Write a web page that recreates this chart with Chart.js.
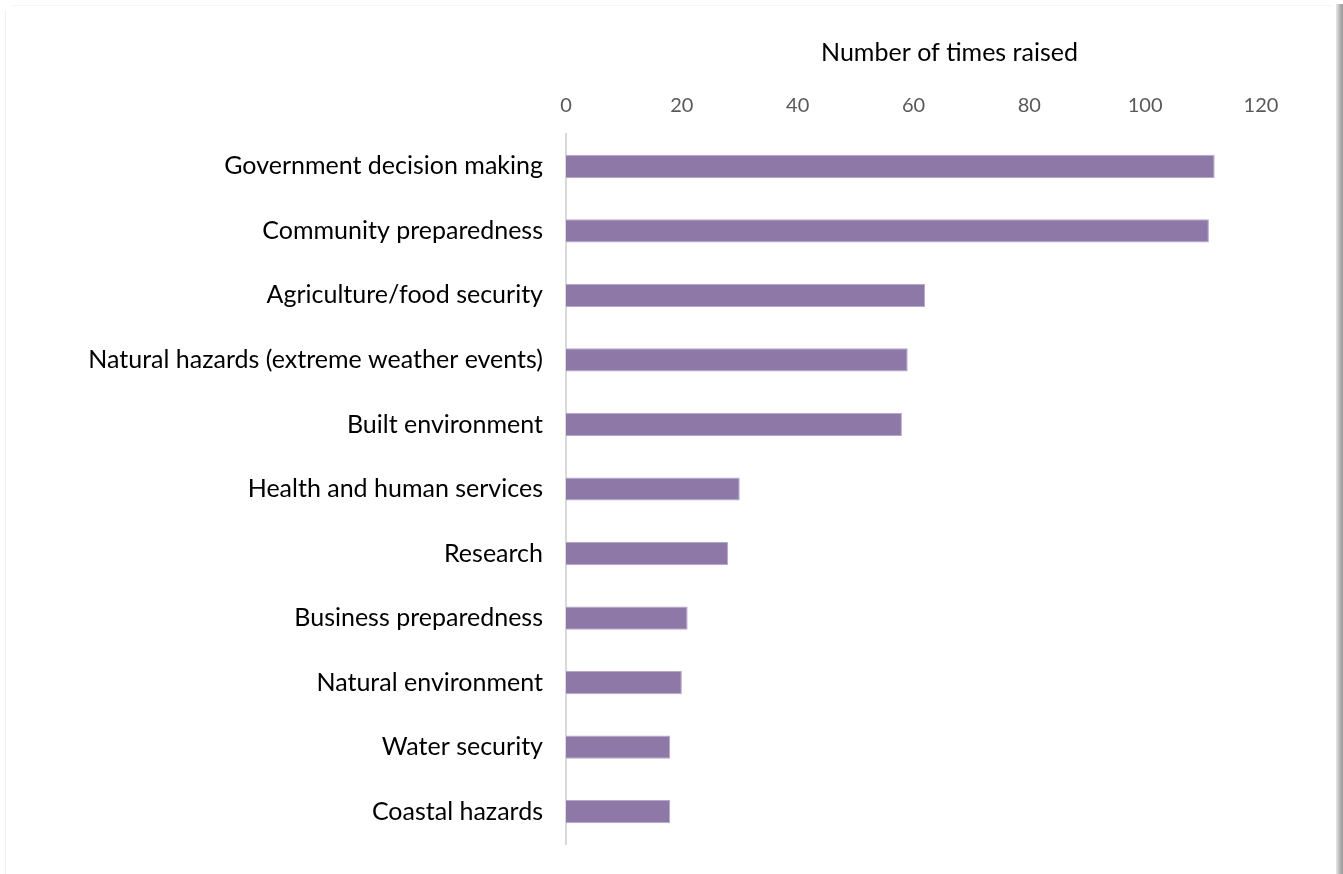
<!DOCTYPE html>
<html>
<head>
<meta charset="utf-8">
<script src="https://cdn.jsdelivr.net/npm/chart.js@4"></script>
<style>
  html, body { margin: 0; padding: 0; background: #fff; }
  #wrap { position: relative; width: 1343px; height: 874px; overflow: hidden; }
  #wrap canvas { position: absolute; left: 0; top: 0; }
  /* page edge: faint rule left/top, soft grey shadow on the right */
  .edge-left { position: absolute; left: 5px; top: 10px; width: 1px; height: 864px; background: #f1f1f1; }
  .edge-top { position: absolute; left: 12px; top: 5px; width: 1320px; height: 1px; background: #f6f6f6; }
  .edge-right { position: absolute; left: 1336px; top: 4px; width: 7px; height: 870px;
                background: linear-gradient(to right, #e8e8e8, #a8a8a8 70%, #9c9c9c); }
</style>
</head>
<body>
<div id="wrap">
  <canvas id="chart" width="1343" height="874"></canvas>
  <div class="edge-left"></div>
  <div class="edge-top"></div>
  <div class="edge-right"></div>
</div>
<script>
// categories, top to bottom
const categories = [
  'Government decision making',
  'Community preparedness',
  'Agriculture/food security',
  'Natural hazards (extreme weather events)',
  'Built environment',
  'Health and human services',
  'Research',
  'Business preparedness',
  'Natural environment',
  'Water security',
  'Coastal hazards'
];
const timesRaised = [112, 111, 62, 59, 58, 30, 28, 21, 20, 18, 18];
const axisTitle = 'Number of times raised';
const xTicks = [0, 20, 40, 60, 80, 100, 120];

const FONT = 'Lato, "Open Sans", sans-serif';

// axis title sits above the ticks, a little right of the plot centre
const topTitle = {
  id: 'topTitle',
  afterDraw(chart) {
    const { ctx, chartArea } = chart;
    ctx.save();
    ctx.font = '25px ' + FONT;
    ctx.fillStyle = '#000';
    ctx.textAlign = 'center';
    ctx.textBaseline = 'middle';
    ctx.fillText(axisTitle, (chartArea.left + chartArea.right) / 2 + 36, 53);
    ctx.restore();
  }
};

new Chart(document.getElementById('chart'), {
  type: 'bar',
  data: {
    labels: categories,
    datasets: [{
      data: timesRaised,
      backgroundColor: '#8e78a8',
      borderColor: '#b6a7c7',
      borderWidth: 1,
      barPercentage: 0.36,
      categoryPercentage: 1.0
    }]
  },
  options: {
    responsive: false,
    animation: false,
    indexAxis: 'y',
    layout: { padding: { left: 0, right: 82, top: 0, bottom: 30 } },
    plugins: {
      legend: { display: false },
      tooltip: { enabled: false }
    },
    scales: {
      x: {
        position: 'top',
        min: 0,
        max: 120,
        afterBuildTicks: (s) => { s.ticks = xTicks.map(v => ({ value: v })); },
        afterFit: (s) => { s.height = 134; },
        grid: { display: false, drawTicks: false },
        border: { display: false },
        ticks: { color: '#595959', padding: 16, font: { family: FONT, size: 20 } }
      },
      y: {
        // fixed label column; drop the label overhang so the plot runs to the bottom padding
        afterFit: (s) => { s.width = 566; s.paddingTop = 0; s.paddingBottom = 0; },
        grid: { display: false, drawTicks: false },
        border: { display: true, color: '#d9d9d9', width: 2 },
        ticks: { color: '#000', padding: 23, font: { family: FONT, size: 25 } }
      }
    }
  },
  plugins: [topTitle]
});
</script>
</body>
</html>
